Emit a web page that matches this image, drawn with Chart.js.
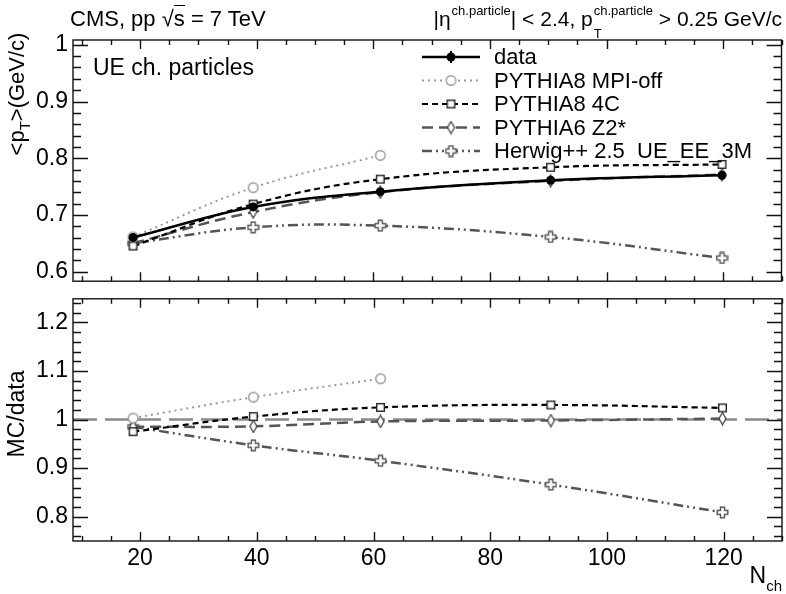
<!DOCTYPE html>
<html>
<head>
<meta charset="utf-8">
<script src="https://cdn.jsdelivr.net/npm/chart.js@4"></script>
<style>
  body { margin: 0; background: #fff; }
  #wrap { position: relative; width: 786px; height: 594px; font-family: "Liberation Sans", Arial, sans-serif; color: #000; }
  canvas { position: absolute; left: 0; }
  .t { position: absolute; white-space: nowrap; line-height: 22px; }
  .st { display: inline-flex; flex-direction: column; font-size: 13px; line-height: 13px; position: relative; top: -11px; vertical-align: baseline; margin-left: 1px; }
</style>
</head>
<body>
<div id="wrap">
  <canvas id="top" width="786" height="300" style="top:0"></canvas>
  <canvas id="bot" width="786" height="314" style="top:280px"></canvas>

  <div class="t" style="left:70px;top:8px;font-size:22px">CMS, pp √<span style="border-top:1.5px solid #000">s</span> = 7 TeV</div>
  <div class="t" style="right:4px;top:8px;font-size:21px">|η<span class="st"><span>ch.particle</span></span>| &lt; 2.4, p<span class="st"><span>ch.particle</span><span style="margin-top:10px">T</span></span> &gt; 0.25 GeV/c</div>
  <div class="t" style="left:93px;top:56px;font-size:23px">UE ch. particles</div>
  <div class="t" style="left:18px;top:94px;font-size:22px;transform:translate(-50%,-50%) rotate(-90deg)">&lt;p<span style="font-size:15px;position:relative;top:6px">T</span>&gt;(GeV/c)</div>
  <div class="t" style="left:16px;top:414px;font-size:23px;transform:translate(-50%,-50%) rotate(-90deg)">MC/data</div>
  <div class="t" style="right:4px;top:564px;font-size:23px">N<span style="font-size:15px;position:relative;top:8px">ch</span></div>
</div>

<script>
// N_ch bin positions
const nch = [18.8, 39.4, 61.2, 90.4, 119.8];

// top panel: <pT> in GeV/c
const dataPt  = [0.660, 0.714, 0.741, 0.761, 0.770];
const dataErr = [0.005, 0.005, 0.005, 0.006, 0.007];
const mpiOff  = [0.661, 0.748, 0.805];
const p8_4c   = [0.645, 0.719, 0.763, 0.784, 0.789];
const p6_z2   = [0.650, 0.705, 0.740, 0.760, 0.771];
const herwig  = [0.650, 0.678, 0.681, 0.661, 0.624];

// bottom panel: MC/data
const mpiOffR = [1.003, 1.046, 1.084];
const p8_4cR  = [0.975, 1.006, 1.025, 1.030, 1.024];
const p6_z2R  = [0.985, 0.986, 0.996, 0.998, 1.002];
const herwigR = [0.985, 0.947, 0.915, 0.866, 0.809];

const xRange = [8.5, 130];
const xTicks = [20, 40, 60, 80, 100, 120];
const topYTicks = [0.6, 0.7, 0.8, 0.9, 1];
const botYTicks = [0.8, 0.9, 1, 1.1, 1.2];

const labels = ['data', 'PYTHIA8 MPI-off', 'PYTHIA8 4C', 'PYTHIA6 Z2*', 'Herwig++ 2.5  UE_EE_3M'];

const pts = (ys) => ys.map((y, i) => ({ x: nch[i], y }));

function marker(w, h, draw) {
  const c = document.createElement('canvas');
  c.width = w; c.height = h;
  draw(c.getContext('2d'));
  return c;
}
const openCircle = marker(13, 13, g => {
  g.fillStyle = '#fff'; g.strokeStyle = '#999'; g.lineWidth = 1.4;
  g.beginPath(); g.arc(6.5, 6.5, 4.8, 0, 2 * Math.PI); g.fill(); g.stroke();
});
const openSquare = marker(11, 11, g => {
  g.fillStyle = '#fff'; g.fillRect(1, 1, 9, 9);
  g.strokeStyle = '#222'; g.lineWidth = 1.4; g.strokeRect(1.7, 1.7, 7.6, 7.6);
});
const openDiamond = marker(9, 14, g => {
  g.fillStyle = '#fff'; g.strokeStyle = '#444'; g.lineWidth = 1.3;
  g.beginPath(); g.moveTo(4.5, 1); g.lineTo(8, 7); g.lineTo(4.5, 13); g.lineTo(1, 7); g.closePath();
  g.fill(); g.stroke();
});
const openCross = marker(13, 13, g => {
  g.fillStyle = '#fff'; g.strokeStyle = '#555'; g.lineWidth = 1.4;
  const p = [[4.5, 1.2], [8.5, 1.2], [8.5, 4.5], [11.8, 4.5], [11.8, 8.5], [8.5, 8.5], [8.5, 11.8], [4.5, 11.8], [4.5, 8.5], [1.2, 8.5], [1.2, 4.5], [4.5, 4.5]];
  g.beginPath(); p.forEach((q, i) => i ? g.lineTo(q[0], q[1]) : g.moveTo(q[0], q[1])); g.closePath();
  g.fill(); g.stroke();
});

const styles = [
  { borderColor: '#000', borderWidth: 2.5, borderDash: [], pointStyle: 'circle', pointRadius: 4.5, backgroundColor: '#000' },
  { borderColor: '#999', borderWidth: 2, borderDash: [2, 4], pointStyle: openCircle },
  { borderColor: '#000', borderWidth: 2.2, borderDash: [6, 4], pointStyle: openSquare },
  { borderColor: '#555', borderWidth: 2.5, borderDash: [11, 6], pointStyle: openDiamond },
  { borderColor: '#555', borderWidth: 2.5, borderDash: [10, 4, 2, 4, 2, 4], pointStyle: openCross }
];

function ds(i, ys, extra) {
  return Object.assign({ label: labels[i], data: pts(ys), tension: 0.4, fill: false,
    pointBorderWidth: 0, pointHoverRadius: 0 }, styles[i], extra || {});
}

function frameTicks(yMinor, yLo, yHi) {
  return {
    id: 'frameTicks',
    afterDraw(chart) {
      const { ctx, chartArea: a, scales: { x, y } } = chart;
      ctx.save();
      ctx.strokeStyle = '#111';
      ctx.lineWidth = 1.4;
      ctx.strokeRect(a.left, a.top, a.right - a.left, a.bottom - a.top);
      ctx.beginPath();
      for (let v = 10; v <= 130; v += 5) {
        const px = Math.round(x.getPixelForValue(v)) + 0.5;
        const len = v % 20 === 0 ? 9 : 5;
        ctx.moveTo(px, a.bottom); ctx.lineTo(px, a.bottom - len);
        ctx.moveTo(px, a.top); ctx.lineTo(px, a.top + len);
      }
      for (let k = Math.round(yLo / yMinor); k * yMinor <= yHi + 1e-9; k++) {
        const v = k * yMinor;
        const py = Math.round(y.getPixelForValue(v)) + 0.5;
        const len = k % 5 === 0 ? 15 : 8;
        ctx.moveTo(a.left, py); ctx.lineTo(a.left + len, py);
        ctx.moveTo(a.right, py); ctx.lineTo(a.right - len, py);
      }
      ctx.stroke();
      ctx.restore();
    }
  };
}

const errorBars = {
  id: 'errorBars',
  afterDatasetsDraw(chart) {
    const { ctx, scales: { y } } = chart;
    const meta = chart.getDatasetMeta(0);
    ctx.save();
    ctx.strokeStyle = '#000'; ctx.lineWidth = 2;
    ctx.beginPath();
    meta.data.forEach((el, i) => {
      ctx.moveTo(el.x, y.getPixelForValue(dataPt[i] - dataErr[i]));
      ctx.lineTo(el.x, y.getPixelForValue(dataPt[i] + dataErr[i]));
    });
    ctx.stroke();
    ctx.restore();
  }
};

const legendBox = {
  id: 'legendBox',
  afterDraw(chart) {
    const ctx = chart.ctx;
    ctx.save();
    ctx.font = '22px "Liberation Sans", Arial, sans-serif';
    ctx.textBaseline = 'middle';
    ctx.fillStyle = '#000';
    labels.forEach((lab, i) => {
      const s = styles[i];
      const yy = 57 + i * 23.5;
      ctx.strokeStyle = s.borderColor;
      ctx.lineWidth = s.borderWidth;
      ctx.setLineDash(s.borderDash);
      ctx.beginPath(); ctx.moveTo(422, yy); ctx.lineTo(480, yy); ctx.stroke();
      ctx.setLineDash([]);
      if (i === 0) {
        ctx.lineWidth = 2;
        ctx.beginPath(); ctx.moveTo(451, yy - 6); ctx.lineTo(451, yy + 6); ctx.stroke();
        ctx.fillStyle = '#000';
        ctx.beginPath(); ctx.arc(451, yy, 4.5, 0, 2 * Math.PI); ctx.fill();
      } else {
        const m = s.pointStyle;
        ctx.drawImage(m, 451 - m.width / 2, yy - m.height / 2);
      }
      ctx.fillStyle = '#000';
      ctx.fillText(lab, 494, yy + 1);
    });
    ctx.restore();
  }
};

const tickFont = { family: '"Liberation Sans", Arial, sans-serif', size: 23 };
const fmt = v => String(+v.toFixed(2));

function baseOptions(yMin, yMax, yTicks, showX, pad) {
  return {
    responsive: false,
    animation: false,
    layout: { padding: pad },
    plugins: { legend: { display: false }, tooltip: { enabled: false } },
    scales: {
      x: {
        type: 'linear', min: xRange[0], max: xRange[1],
        grid: { display: false, drawTicks: false },
        border: { display: false },
        ticks: { display: showX, font: tickFont, color: '#000', padding: 4, maxRotation: 0, callback: fmt },
        afterBuildTicks: s => { s.ticks = xTicks.map(v => ({ value: v })); },
        afterFit: s => { s.height = showX ? 53 : 0; }
      },
      y: {
        min: yMin, max: yMax,
        grid: { display: true, drawOnChartArea: false, drawTicks: false, color: 'rgba(0,0,0,0)' },
        border: { display: false },
        ticks: { font: tickFont, color: '#000', padding: 5, callback: fmt },
        afterBuildTicks: s => { s.ticks = yTicks.map(v => ({ value: v })); },
        afterFit: s => { s.width = 73; }
      }
    }
  };
}

new Chart(document.getElementById('top'), {
  type: 'line',
  data: {
    datasets: [
      ds(0, dataPt),
      ds(1, mpiOff),
      ds(2, p8_4c),
      ds(3, p6_z2),
      ds(4, herwig)
    ]
  },
  options: baseOptions(0.583, 1.0085, topYTicks, false, { left: 0, top: 40, right: 4, bottom: 10 }),
  plugins: [frameTicks(0.02, 0.6, 1.0), errorBars, legendBox]
});

new Chart(document.getElementById('bot'), {
  type: 'line',
  data: {
    datasets: [
      ds(1, mpiOffR),
      ds(2, p8_4cR),
      ds(3, p6_z2R),
      ds(4, herwigR),
      { label: 'unity', data: [{ x: xRange[0], y: 1 }, { x: xRange[1], y: 1 }],
        borderColor: '#8a8a8a', borderWidth: 2.5, borderDash: [24, 8], pointRadius: 0, tension: 0 }
    ]
  },
  options: baseOptions(0.75, 1.2485, botYTicks, true, { left: 0, top: 10, right: 4, bottom: 0 }),
  plugins: [frameTicks(0.02, 0.76, 1.24)]
});
</script>
</body>
</html>
